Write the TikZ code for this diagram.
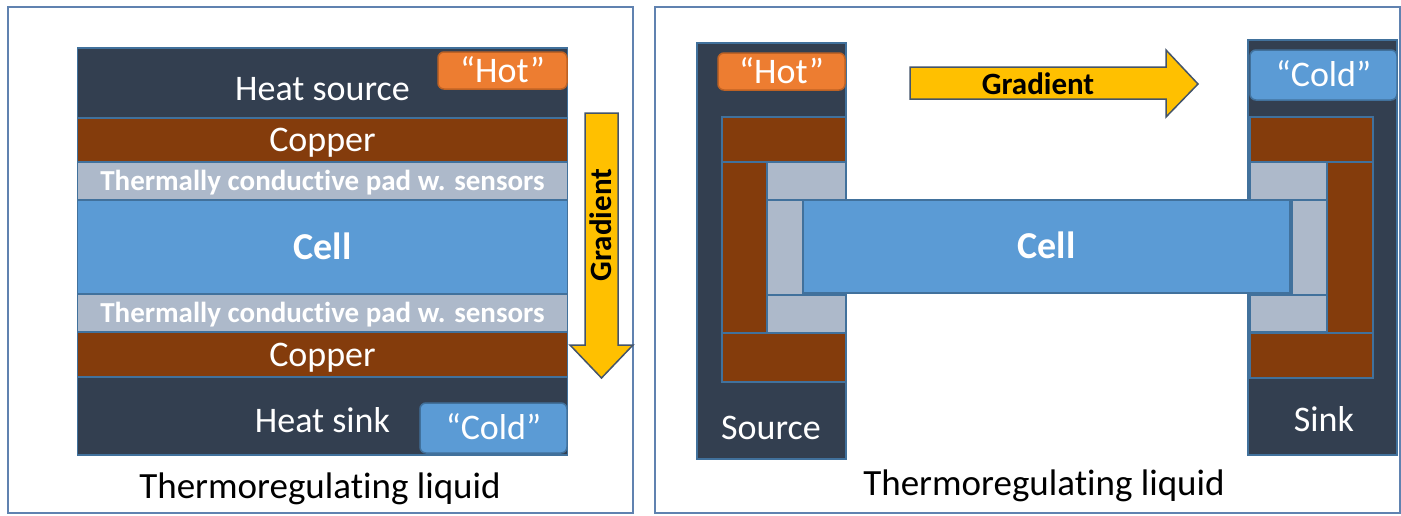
\documentclass[tikz,border=0pt]{standalone}
\usepackage{fontspec}
\setmainfont{Carlito}[Ligatures={NoCommon}]
\usepackage{tikz}
\usetikzlibrary{
    positioning,
    fit
}
\definecolor{NavyDark}{RGB}{51,63,80}
\definecolor{CopperBrown}{RGB}{132,60,12}
\definecolor{PadGray}{RGB}{173,185,202}
\definecolor{CellBlue}{RGB}{91,155,213}
\definecolor{HotOrange}{RGB}{237,125,49}
\definecolor{HotEdge}{RGB}{190,98,36}
\definecolor{GradYellow}{RGB}{255,192,0}
\definecolor{EdgeBlue}{RGB}{65,113,156}
\definecolor{FrameBlue}{RGB}{96,130,176}
\definecolor{ArrowEdge}{RGB}{68,84,106}

\begin{document}
\begin{tikzpicture}[
    x=1pt, y=-1pt,
    node distance=0pt,
    slab/.style={rectangle, draw=EdgeBlue, line width=1.5pt, inner sep=0pt, outer sep=0pt},
    stack/.style={minimum width=490pt},
    navy/.style={slab, fill=NavyDark},
    cu/.style={slab, fill=CopperBrown},
    pad/.style={slab, fill=PadGray},
    cell/.style={slab, fill=CellBlue},
    lbl/.style={text=white, font=\fontsize{36}{40}\selectfont, text height=23pt, text depth=0pt},
    padlbl/.style={text=white, font=\fontsize{29}{32}\selectfont\bfseries, text height=19pt, text depth=0pt},
    celllbl/.style={text=white, font=\fontsize{38}{42}\selectfont\bfseries, text height=24.5pt, text depth=0pt},
    hottag/.style={rectangle, rounded corners=6pt, draw=HotEdge, fill=HotOrange, line width=1.5pt, inner sep=0pt, outer sep=0pt, lbl},
    coldtag/.style={rectangle, rounded corners=6pt, draw=EdgeBlue, fill=CellBlue, line width=1.5pt, inner sep=0pt, outer sep=0pt, lbl},
    frame/.style={rectangle, draw=FrameBlue, line width=1.5pt, inner sep=0pt},
    title/.style={text=black, font=\fontsize{37}{40}\selectfont, text height=23.5pt, text depth=0pt},
    gradarrow/.style={draw=ArrowEdge, fill=GradYellow, line width=1.5pt, line join=miter},
    gradlbl/.style={text=black, font=\fontsize{31}{34}\selectfont\bfseries, text height=20pt, text depth=0pt},
]
\useasboundingbox (0,0) rectangle (1401,515);

% panels
\node[frame, fit={(8,7) (633,513)}] (panelA) {};
\node[frame, fit={(655,7) (1400,513)}] (panelB) {};

% left: stacked layers
\node[navy, stack, minimum height=70pt, lbl, text height=35pt] (hsrc) at (322.5,83) {Heat source};
\node[cu, stack, minimum height=44pt, lbl, below=of hsrc] (cuA) {Copper};
\node[pad, stack, minimum height=38pt, padlbl, below=of cuA] (padA) {Thermally conductive pad w. sensors};
\node[cell, stack, minimum height=94pt, celllbl, below=of padA] (cellA) {Cell};
\node[pad, stack, minimum height=38pt, padlbl, below=of cellA] (padB) {Thermally conductive pad w. sensors};
\node[cu, stack, minimum height=45pt, lbl, below=of padB] (cuB) {Copper};
\node[navy, stack, minimum height=78pt, lbl, text height=33pt, below=of cuB] (hsink) {Heat sink};

\node[hottag, minimum width=129pt, minimum height=37pt, anchor=north east] (hotA) at (567,52) {“Hot”};
\node[coldtag, minimum width=147pt, minimum height=50pt, anchor=south east] (coldA) at (567,453) {“Cold”};

\draw[gradarrow] (585,113) -- (618,113) -- (618,345) -- (633,345) -- (601.5,378)
    -- (570,345) -- (585,345) -- cycle;
\node[gradlbl, rotate=90] (gradA) at (601.5,225) {Gradient};

\node[title] (liqA) at (320,487) {Thermoregulating liquid};

% right: source and sink side by side
\node[navy, fit={(697,43) (846,459)}] (srcblk) {};
\node[cu, fit={(722,117) (846,162)}] (cuC) {};
\node[cu, fit={(722,162) (767,333)}] (cuCs) {};
\node[pad, fit={(767,162) (846,200)}] (padC) {};
\node[pad, fit={(767,200) (803,295)}] (padCs) {};
\node[pad, fit={(767,295) (846,333)}] (padCb) {};
\node[cu, fit={(722,333) (846,382)}] (cuCb) {};
\node[lbl] (srclbl) at (771,428) {Source};

\node[navy, fit={(1248,40) (1397,455)}] (snkblk) {};
\node[cu, fit={(1250,117) (1373,162)}] (cuD) {};
\node[pad, fit={(1250,162) (1327,200)}] (padD) {};
\node[cu, fit={(1327,162) (1373,333)}] (cuDs) {};
\node[pad, fit={(1292,200) (1327,295)}] (padDs) {};
\node[pad, fit={(1250,295) (1327,332)}] (padDb) {};
\node[cu, fit={(1250,333) (1373,378)}] (cuDb) {};
\node[lbl] (snklbl) at (1324,420) {Sink};

\node[cell, celllbl, minimum width=487pt, minimum height=93pt] (cellB) at (1046.5,246.5) {Cell};

\node[hottag, minimum width=127pt, minimum height=37pt] (hotB) at (781.5,71.5) {“Hot”};
\node[coldtag, minimum width=147pt, minimum height=50pt] (coldB) at (1323.5,75) {“Cold”};

\draw[gradarrow] (910,67) -- (1166,67) -- (1166,50) -- (1198,84) -- (1166,117)
    -- (1166,99) -- (910,99) -- cycle;
\node[gradlbl] (gradB) at (1038,84) {Gradient};

\node[title] (liqB) at (1044,484) {Thermoregulating liquid};
\end{tikzpicture}
\end{document}
